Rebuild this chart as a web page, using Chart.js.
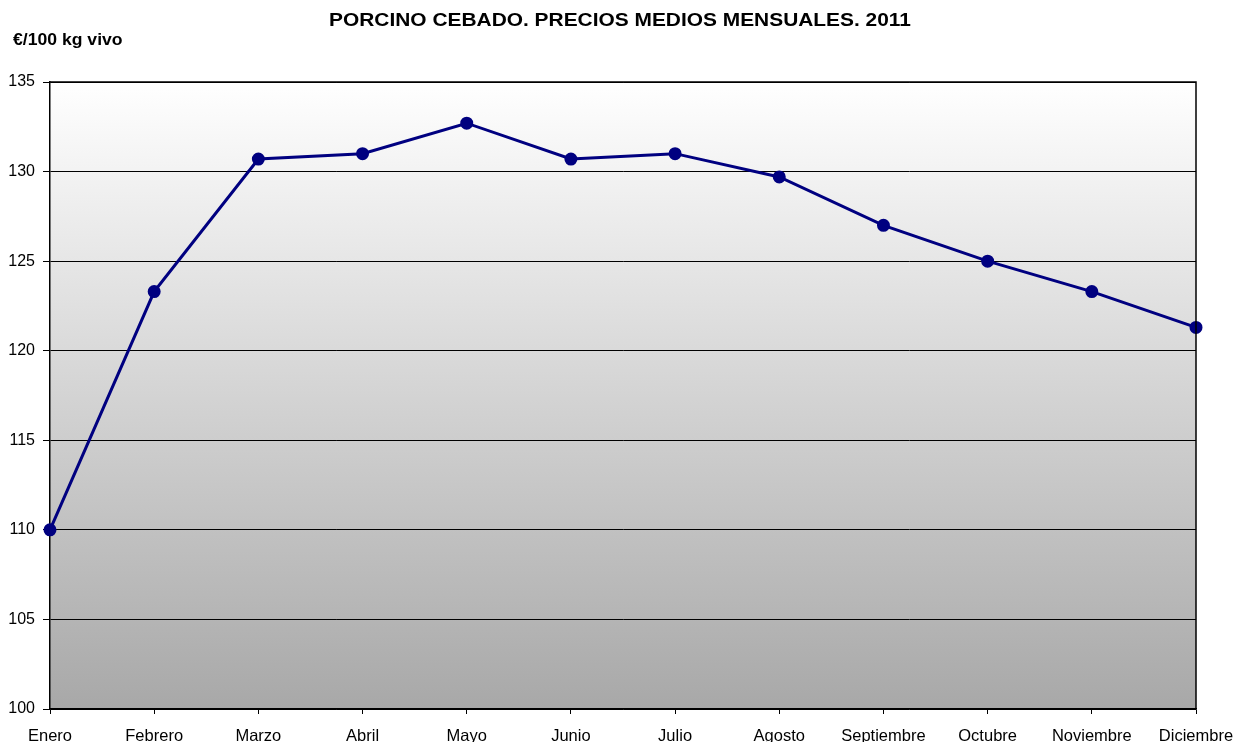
<!DOCTYPE html>
<html>
<head>
<meta charset="utf-8">
<script src="https://cdn.jsdelivr.net/npm/chart.js@4"></script>
<style>
  html, body { margin: 0; padding: 0; background: #fff; }
  #wrap { width: 1237px; height: 742px; }
</style>
</head>
<body>
<div id="wrap"><canvas id="chart"></canvas></div>
<script>
// Monthly average prices, 2011
const months = ['Enero', 'Febrero', 'Marzo', 'Abril', 'Mayo', 'Junio', 'Julio',
  'Agosto', 'Septiembre', 'Octubre', 'Noviembre', 'Diciembre'];
const prices = [110.0, 123.3, 130.7, 131.0, 132.7, 130.7, 131.0, 129.7, 127.0, 125.0, 123.3, 121.3];
const chartTitle = 'PORCINO CEBADO. PRECIOS MEDIOS MENSUALES. 2011';
const unitLabel = '€/100 kg vivo';

const FONT = 'Liberation Sans, Arial, sans-serif';

// draws text slightly stretched horizontally, like the original
function wideText(ctx, text, x, y, align, stretch) {
  ctx.save();
  ctx.textAlign = align;
  ctx.translate(x, y);
  ctx.scale(stretch, 1);
  ctx.fillText(text, 0, 0);
  ctx.restore();
}

// gradient background + frame + texts
const decorPlugin = {
  id: 'decor',
  beforeDraw(chart) {
    const { ctx, chartArea: a } = chart;
    const g = ctx.createLinearGradient(0, a.top, 0, a.bottom);
    g.addColorStop(0, '#ffffff');
    g.addColorStop(1, '#a8a8a8');
    ctx.save();
    ctx.fillStyle = g;
    ctx.fillRect(a.left, a.top, a.right - a.left, a.bottom - a.top);
    ctx.restore();
  },
  afterDatasetsDraw(chart) {
    const { ctx, chartArea: a } = chart;
    ctx.save();
    ctx.strokeStyle = '#000';
    ctx.lineWidth = 1.5;
    ctx.beginPath();
    ctx.moveTo(a.left, a.top);
    ctx.lineTo(a.right, a.top);
    ctx.lineTo(a.right, a.bottom);
    ctx.stroke();
    ctx.restore();
  },
  afterDraw(chart) {
    const { ctx } = chart;
    ctx.save();
    ctx.fillStyle = '#000';
    ctx.textBaseline = 'middle';
    ctx.font = 'bold 19px ' + FONT;
    wideText(ctx, chartTitle, 620, 21, 'center', 1.1);
    ctx.font = 'bold 16px ' + FONT;
    wideText(ctx, unitLabel, 13, 41, 'left', 1.1);
    ctx.restore();
  }
};

new Chart(document.getElementById('chart'), {
  type: 'line',
  data: {
    labels: months,
    datasets: [{
      data: prices,
      borderColor: '#000080',
      backgroundColor: '#000080',
      borderWidth: 3,
      pointRadius: 5,
      pointHoverRadius: 5,
      pointBackgroundColor: '#000080',
      pointBorderColor: '#000080',
      tension: 0
    }]
  },
  options: {
    responsive: true,
    maintainAspectRatio: false,
    animation: false,
    layout: { padding: { top: 82, right: 41, bottom: 0, left: 0 } },
    plugins: {
      legend: { display: false },
      title: { display: false },
      tooltip: { enabled: false }
    },
    scales: {
      x: {
        offset: false,
        afterFit(scale) {
          scale.height = 33;
          scale.paddingLeft = 0;
          scale.paddingRight = 0;
        },
        grid: {
          drawOnChartArea: false,
          drawTicks: true,
          tickLength: 5,
          color: '#000'
        },
        border: { display: true, color: '#000', width: 1.5 },
        ticks: {
          color: '#000',
          font: { family: FONT, size: 16.5 },
          maxRotation: 0,
          autoSkip: false,
          padding: 13
        }
      },
      y: {
        min: 100,
        max: 135,
        afterFit(scale) {
          scale.width = 50;
          scale.paddingTop = 0;
          scale.paddingBottom = 0;
        },
        grid: {
          color: '#000',
          lineWidth: 1,
          drawTicks: true,
          tickLength: 7
        },
        border: { display: true, color: '#000', width: 1.5 },
        ticks: {
          stepSize: 5,
          color: '#000',
          font: { family: FONT, size: 16 },
          padding: 8
        }
      }
    }
  },
  plugins: [decorPlugin]
});
</script>
</body>
</html>
